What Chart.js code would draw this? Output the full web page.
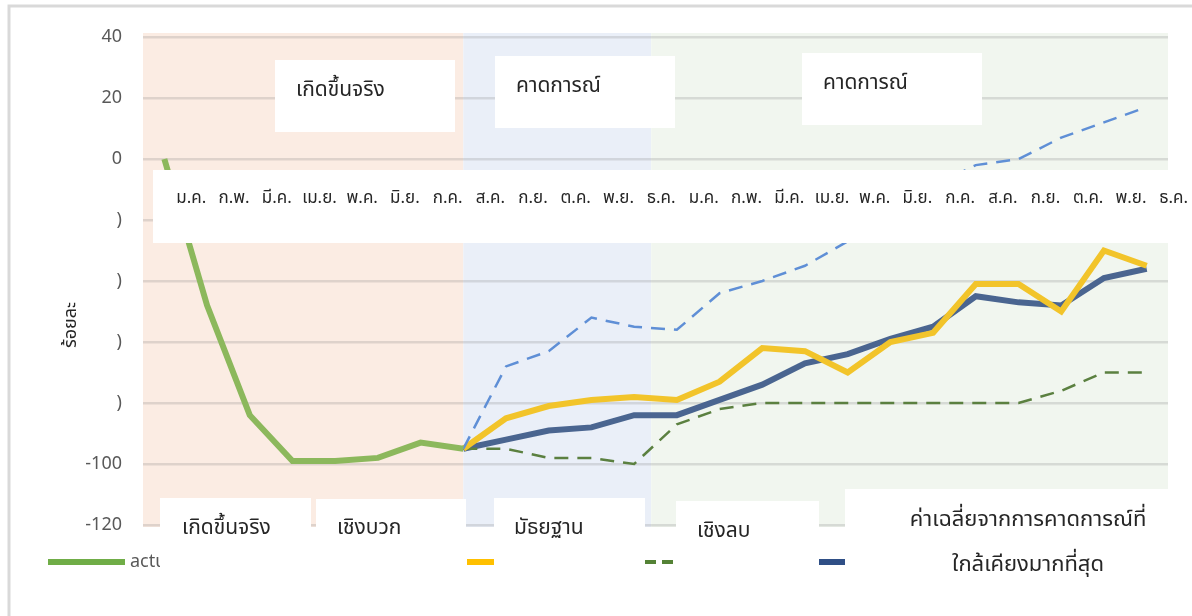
<!DOCTYPE html>
<html>
<head>
<meta charset="utf-8">
<script src="https://cdn.jsdelivr.net/npm/chart.js@4"></script>
<style>
  body { margin: 0; background: #fff; }
  #mycanvas { display: block; }
</style>
</head>
<body>
<canvas id="mycanvas" width="1192" height="616"></canvas>
<script>
// months, two years
var months = ['ม.ค.','ก.พ.','มี.ค.','เม.ย.','พ.ค.','มิ.ย.','ก.ค.','ส.ค.','ก.ย.','ต.ค.','พ.ย.','ธ.ค.',
              'ม.ค.','ก.พ.','มี.ค.','เม.ย.','พ.ค.','มิ.ย.','ก.ค.','ส.ค.','ก.ย.','ต.ค.','พ.ย.','ธ.ค.'];

var actual   = [0, -48, -84, -99, -99, -98, -93, -95, null, null, null, null,
                null, null, null, null, null, null, null, null, null, null, null, null];
var positive = [null, null, null, null, null, null, null, -95, -68, -63, -52, -55,
                -56, -44, -40, -35, -27, -18, -9, -2, 0, 7, 12, 17];
var median   = [null, null, null, null, null, null, null, -95, -85, -81, -79, -78,
                -79, -73, -62, -63, -70, -60, -57, -41, -41, -50, -30, -35];
var negative = [null, null, null, null, null, null, null, -95, -95, -98, -98, -100,
                -87, -82, -80, -80, -80, -80, -80, -80, -80, -76, -70, -70];
var average  = [null, null, null, null, null, null, null, -95, -92, -89, -88, -84,
                -84, -79, -74, -67, -64, -59, -55, -45, -47, -48, -39, -36];

var yTickValues = [40, 20, 0, -20, -40, -60, -80, -100, -120];
var yTickLabels = ['40', '20', '0', ')', ')', ')', ')', '-100', '-120'];

var seriesNames = ['actual', 'positive', 'median', 'negative', 'average'];
var periodNames = ['เกิดขึ้นจริง', 'คาดการณ์', 'คาดการณ์'];
var legendNames = ['เกิดขึ้นจริง', 'เชิงบวก', 'มัธยฐาน', 'เชิงลบ'];
var avgName = ['ค่าเฉลี่ยจากการคาดการณ์ที่', 'ใกล้เคียงมากที่สุด'];
var yTitle = 'ร้อยละ';

var thai = '"Noto Sans Thai", "Noto Sans", sans-serif';

function box(ctx, x, y, w, h) {
  ctx.fillStyle = '#ffffff';
  ctx.fillRect(x, y, w, h);
}
function txt(ctx, s, x, y, size, align) {
  ctx.font = size + 'px ' + thai;
  ctx.fillStyle = '#262626';
  ctx.textAlign = align || 'left';
  ctx.textBaseline = 'middle';
  ctx.fillText(s, x, y);
}

var decor = {
  id: 'decor',
  beforeDraw: function(chart) {
    var ctx = chart.ctx, a = chart.chartArea, xs = chart.scales.x;
    ctx.save();
    ctx.fillStyle = '#fff';
    ctx.fillRect(0, 0, chart.width, chart.height);
    var x1 = xs.getPixelForValue(7);
    var x2 = xs.getPixelForValue(11.4);
    ctx.fillStyle = '#fbece3';
    ctx.fillRect(a.left, a.top - 4, x1 - a.left, a.bottom - a.top + 6);
    ctx.fillStyle = '#eaeff8';
    ctx.fillRect(x1, a.top - 4, x2 - x1, a.bottom - a.top + 6);
    ctx.fillStyle = '#f1f6ef';
    ctx.fillRect(x2, a.top - 4, a.right - x2, a.bottom - a.top + 6);
    ctx.restore();
  },
  afterDraw: function(chart) {
    var ctx = chart.ctx, xs = chart.scales.x;
    ctx.save();
    // outer frame
    ctx.strokeStyle = '#d9d9d9';
    ctx.lineWidth = 3;
    ctx.beginPath();
    ctx.moveTo(9, 616); ctx.lineTo(9, 6); ctx.lineTo(1192, 6);
    ctx.stroke();

    // legend samples
    var ds = chart.data.datasets;
    var lx = [48, 234, 467, 645, 812];
    ds.forEach(function(d, i) {
      ctx.strokeStyle = d.legendColor;
      ctx.lineWidth = d.borderDash ? 4 : 6;
      ctx.setLineDash(d.borderDash ? [11, 6] : []);
      ctx.lineCap = 'butt';
      ctx.beginPath();
      ctx.moveTo(lx[i], 562); ctx.lineTo(lx[i] + 77, 562);
      ctx.stroke();
      ctx.setLineDash([]);
      ctx.font = '18px "Noto Sans", sans-serif';
      ctx.fillStyle = '#595959';
      ctx.textAlign = 'left';
      ctx.textBaseline = 'middle';
      ctx.fillText(seriesNames[i], lx[i] + 82, 562);
    });

    // y title
    ctx.save();
    ctx.translate(72, 325);
    ctx.rotate(-Math.PI / 2);
    txt(ctx, yTitle, 0, 0, 18, 'center');
    ctx.restore();

    // period label boxes
    box(ctx, 275, 60, 180, 72); txt(ctx, periodNames[0], 296, 92, 21);
    box(ctx, 495, 56, 180, 72); txt(ctx, periodNames[1], 516, 88, 21);
    box(ctx, 802, 53, 180, 72); txt(ctx, periodNames[2], 823, 85, 21);

    // month labels box
    box(ctx, 153, 170, 1039, 73);
    months.forEach(function(m, i) {
      txt(ctx, m, xs.getPixelForValue(i) + 27, 200, 17, 'center');
    });

    // legend label boxes
    box(ctx, 160, 498, 151, 110); txt(ctx, legendNames[0], 182, 530, 21);
    box(ctx, 316, 499, 150, 110); txt(ctx, legendNames[1], 337, 530, 21);
    box(ctx, 494, 498, 151, 110); txt(ctx, legendNames[2], 514, 530, 21);
    box(ctx, 676, 501, 143, 110); txt(ctx, legendNames[3], 697, 533, 21);
    box(ctx, 845, 489, 347, 127);
    txt(ctx, avgName[0], 1028, 522, 22, 'center');
    txt(ctx, avgName[1], 1028, 567, 22, 'center');
    ctx.restore();
  }
};

var chartdata = {
  labels: months,
  datasets: [
    { label: seriesNames[0], data: actual, borderColor: '#8cb85c', legendColor: '#70ad47', borderWidth: 6 },
    { label: seriesNames[1], data: positive, borderColor: '#5f8fd6', legendColor: '#4472c4', borderWidth: 2.5, borderDash: [14, 9] },
    { label: seriesNames[2], data: median, borderColor: '#f2c42a', legendColor: '#ffc000', borderWidth: 6 },
    { label: seriesNames[3], data: negative, borderColor: '#5b8040', legendColor: '#548235', borderWidth: 2.5, borderDash: [14, 9] },
    { label: seriesNames[4], data: average, borderColor: '#4a6590', legendColor: '#2f4f86', borderWidth: 6 }
  ]
};
chartdata.datasets.forEach(function(d) {
  d.fill = false;
  d.tension = 0;
  d.pointRadius = 0;
  d.spanGaps = false;
});

var ctx = document.getElementById('mycanvas');
var LineGraph = new Chart(ctx, {
  type: 'line',
  data: chartdata,
  options: {
    responsive: false,
    animation: false,
    layout: { padding: { left: 0, top: 37, right: 24, bottom: 91 } },
    plugins: { legend: { display: false }, tooltip: { enabled: false } },
    scales: {
      x: {
        display: false,
        offset: true
      },
      y: {
        min: -120,
        max: 40,
        afterFit: function(s) { s.width = 143; },
        afterBuildTicks: function(s) {
          s.ticks = yTickValues.map(function(v) { return { value: v }; });
        },
        border: { display: false },
        grid: { color: 'rgba(110,110,110,0.2)', lineWidth: 2.5, drawTicks: false },
        ticks: {
          padding: 21,
          color: '#595959',
          font: { size: 18, family: '"Noto Sans", sans-serif' },
          callback: function(v) { return yTickLabels[yTickValues.indexOf(v)]; }
        }
      }
    }
  },
  plugins: [decor]
});
</script>
</body>
</html>
